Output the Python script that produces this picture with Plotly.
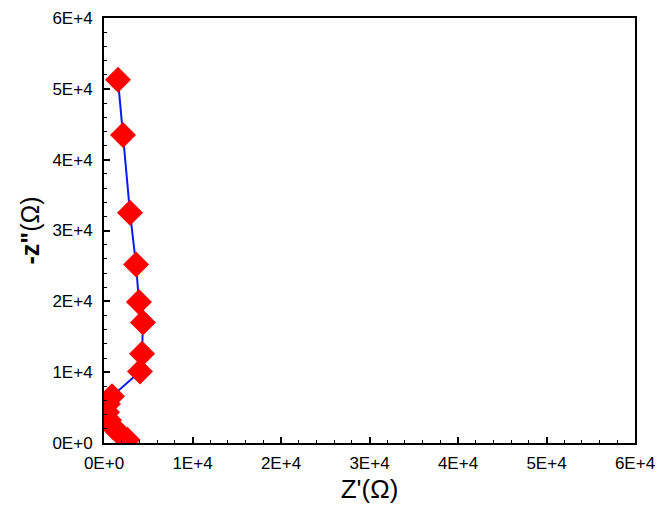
import plotly.graph_objects as go

z_real = [1580, 2150, 2940, 3620, 3950, 4400, 4300, 4070, 900, 450, 340, 560, 1020, 1700, 2650]
z_imag = [51300, 43500, 32500, 25200, 19900, 17000, 12600, 10100, 6600, 5500, 4350, 3250, 2250, 1400, 450]

tick_vals = [0, 10000, 20000, 30000, 40000, 50000, 60000]
tick_text = ["0E+0", "1E+4", "2E+4", "3E+4", "4E+4", "5E+4", "6E+4"]

fig = go.Figure()
fig.add_trace(go.Scatter(
    x=z_real, y=z_imag, mode="lines+markers",
    line=dict(color="#0A1BF0", width=2),
    marker=dict(symbol="diamond", size=20, color="#FF0000", line=dict(width=0)),
    showlegend=False,
))

axis_common = dict(
    range=[0, 60000], tickvals=tick_vals, ticktext=tick_text, automargin=False,
    showgrid=False, zeroline=False, showline=True, linecolor="black", linewidth=2,
    mirror=True, ticks="inside", ticklen=6, tickwidth=1.5, tickcolor="black",
    ticklabeloverflow="allow",
    tickfont=dict(family="Liberation Sans, Arial", size=17, color="black"),
    minor=dict(dtick=2000, ticks="inside", ticklen=3, tickwidth=1.2, tickcolor="black", showgrid=False),
)

fig.update_layout(
    width=664, height=500,
    margin=dict(l=96, r=37, t=10, b=65),
    paper_bgcolor="white", plot_bgcolor="white",
    xaxis=dict(**axis_common,
               title=dict(text="Z'(Ω)", font=dict(family="Liberation Sans, Arial", size=26, color="black"), standoff=7)),
    yaxis=dict(**axis_common,
               title=dict(text="<b>-z\"</b>(Ω)", font=dict(family="Liberation Sans, Arial", size=25, color="black"), standoff=6)),
)
fig.update_xaxes(ticklabelstandoff=4)
fig.update_yaxes(ticklabelstandoff=6)

fig.write_html("out.html")
